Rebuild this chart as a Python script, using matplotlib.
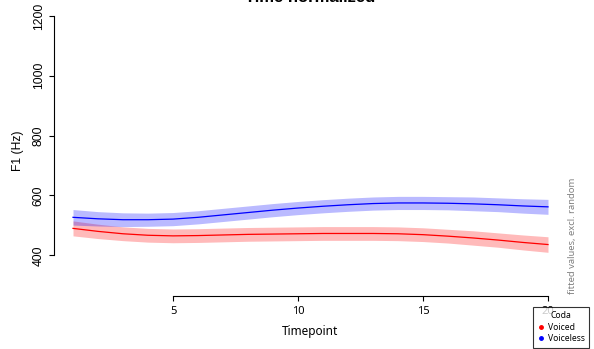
import matplotlib
matplotlib.use('Agg')
import matplotlib.pyplot as plt
from matplotlib.lines import Line2D
import numpy as np

# fitted F1 per timepoint
timepoints = np.arange(1, 21)
voiceless_fit = [527, 522, 519, 519, 521, 527, 535, 543, 551, 558,
                 564, 569, 573, 575, 575, 574, 572, 569, 565, 562]
voiced_fit = [490, 480, 472, 467, 465, 466, 468, 470, 471, 472,
              473, 473, 473, 472, 469, 464, 458, 451, 443, 436]
voiceless_ci = [26, 24, 23, 22, 22, 22, 22, 22, 22, 22,
                22, 22, 22, 22, 22, 22, 23, 23, 24, 25]
voiced_ci = [25, 24, 23, 23, 23, 23, 23, 23, 23, 23,
             23, 23, 23, 23, 23, 23, 24, 24, 25, 26]

coda_labels = ['Voiced', 'Voiceless']
coda_colors = ['red', 'blue']
y_ticks = [400, 600, 800, 1000, 1200]
x_ticks = [5, 10, 15, 20]

W, H = 594, 349
fig = plt.figure(figsize=(W / 100, H / 100), dpi=100)
ax = fig.add_axes([54 / W, 1 - 296 / H, (567 - 54) / W, (296 - 5.2) / H])

for fit, ci, color in [(voiced_fit, voiced_ci, 'red'), (voiceless_fit, voiceless_ci, 'blue')]:
    fit = np.array(fit)
    ci = np.array(ci)
    ax.fill_between(timepoints, fit - ci, fit + ci, color=color, alpha=0.27, linewidth=0)
    ax.plot(timepoints, fit, color=color, linewidth=0.9)

ax.set_xlim(0.24, 20.76)
ax.set_ylim(264, 1236)

for side in ['top', 'right']:
    ax.spines[side].set_visible(False)
ax.spines['left'].set_bounds(400, 1200)
ax.spines['bottom'].set_bounds(5, 20)
for side in ['left', 'bottom']:
    ax.spines[side].set_linewidth(0.8)

ax.set_yticks(y_ticks)
ax.set_yticklabels([str(v) for v in y_ticks], rotation=90, va='center',
                   family='Liberation Sans', fontsize=8.7)
ax.set_xticks(x_ticks)
ax.set_xticklabels([str(v) for v in x_ticks], family='Noto Sans', fontsize=8)
ax.tick_params(axis='both', length=3.6, width=0.8, direction='out')
ax.tick_params(axis='y', pad=3)
ax.tick_params(axis='x', pad=3.5)

ax.set_xlabel('Timepoint', family='Noto Sans', fontsize=8.5, labelpad=6)
ax.set_ylabel('F1 (Hz)', family='Liberation Sans', fontsize=8.7, labelpad=6)

fig.text(310 / W, 1 - 2 / H, 'Time normalized', ha='center', va='baseline',
         family='Liberation Sans', fontweight='bold', fontsize=12)

fig.text(572 / W, 1 - 294 / H, 'fitted values, excl. random', rotation=90,
         ha='center', va='bottom', color='#808080', family='Noto Sans', fontsize=6.8)

handles = [Line2D([], [], marker='o', linestyle='none', color=c, markersize=2.5)
           for c in coda_colors]
leg = ax.legend(handles, coda_labels, title='Coda', loc='upper left',
                bbox_to_anchor=(533 / W, 1 - 307 / H), bbox_transform=fig.transFigure,
                prop={'family': 'Noto Sans', 'size': 6.2}, title_fontproperties={'family': 'Noto Sans', 'size': 6.2},
                frameon=True, fancybox=False, handlelength=0.8, handletextpad=0.4,
                borderpad=0.5, labelspacing=0.3, borderaxespad=0)
leg.get_frame().set_edgecolor('black')
leg.get_frame().set_linewidth(0.8)
leg.set_clip_on(False)

fig.savefig('out.png', dpi=100)
